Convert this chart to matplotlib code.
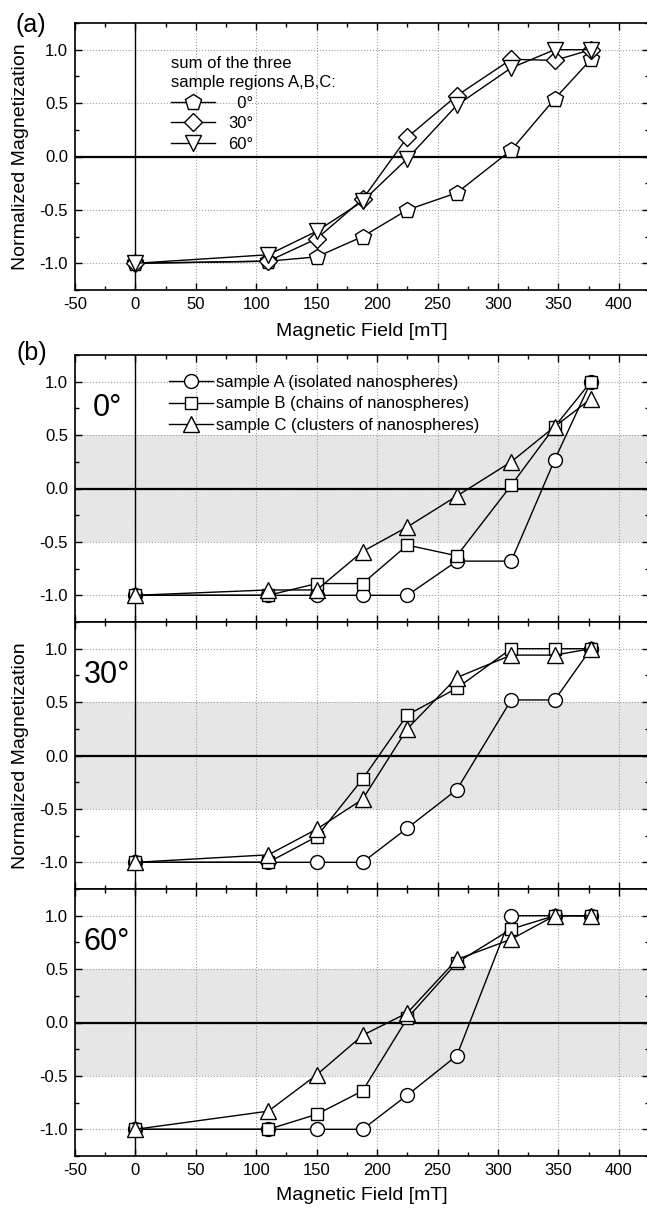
import matplotlib
matplotlib.use('Agg')
import matplotlib.pyplot as plt
from matplotlib.ticker import MultipleLocator, FormatStrFormatter

plt.rcParams['font.family'] = ['Liberation Sans', 'DejaVu Sans']
plt.rcParams['axes.unicode_minus'] = False

# magnetic field steps [mT]
field = [0, 110, 150, 188, 225, 266, 311, 347, 377]

# (a) sum of the three sample regions
sum_0 = [-1.0, -0.98, -0.94, -0.75, -0.50, -0.34, 0.06, 0.54, 0.91]
sum_30 = [-1.0, -0.98, -0.77, -0.40, 0.18, 0.57, 0.91, 0.90, 1.0]
sum_60 = [-1.0, -0.92, -0.70, -0.42, -0.02, 0.48, 0.83, 1.0, 1.0]

# (b) single samples, one panel per angle
a_0 = [-1.0, -1.0, -1.0, -1.0, -1.0, -0.68, -0.68, 0.27, 1.0]
b_0 = [-1.0, -1.0, -0.89, -0.89, -0.53, -0.63, 0.03, 0.58, 1.0]
c_0 = [-1.0, -0.95, -0.95, -0.59, -0.36, -0.07, 0.25, 0.58, 0.84]

a_30 = [-1.0, -1.0, -1.0, -1.0, -0.68, -0.32, 0.52, 0.52, 1.0]
b_30 = [-1.0, -1.0, -0.76, -0.22, 0.38, 0.63, 1.0, 1.0, 1.0]
c_30 = [-1.0, -0.93, -0.69, -0.41, 0.25, 0.73, 0.94, 0.94, 1.0]

a_60 = [-1.0, -1.0, -1.0, -1.0, -0.68, -0.31, 1.0, 1.0, 1.0]
b_60 = [-1.0, -1.0, -0.86, -0.64, 0.04, 0.56, 0.875, 1.0, 1.0]
c_60 = [-1.0, -0.83, -0.49, -0.12, 0.09, 0.59, 0.78, 1.0, 1.0]

angle_labels = ['0°', '30°', '60°']
sample_labels = ['sample A (isolated nanospheres)',
                 'sample B (chains of nanospheres)',
                 'sample C (clusters of nanospheres)']

W, H = 647, 1209
fig = plt.figure(figsize=(W / 100, H / 100), dpi=100)


def rect(top, bottom):
    return [75 / W, 1 - bottom / H, 574 / W, (bottom - top) / H]


def style(ax, show_x=True):
    ax.set_xlim(-50, 425)
    ax.set_ylim(-1.25, 1.25)
    ax.xaxis.set_major_locator(MultipleLocator(50))
    ax.xaxis.set_minor_locator(MultipleLocator(25))
    ax.yaxis.set_major_locator(MultipleLocator(0.5))
    ax.yaxis.set_minor_locator(MultipleLocator(0.25))
    ax.yaxis.set_major_formatter(FormatStrFormatter('%.1f'))
    ax.tick_params(which='both', direction='in', top=True, right=True,
                   labelsize=12, pad=5, width=1)
    ax.tick_params(which='major', length=5)
    ax.tick_params(which='minor', length=3)
    ax.grid(True, which='major', linestyle=':', color='#a0a0a0', linewidth=0.8)
    ax.axhline(0, color='black', lw=1.6, zorder=1.6)
    ax.axvline(0, color='black', lw=1.0, zorder=1.6)
    for s in ax.spines.values():
        s.set_linewidth(1.2)
    if not show_x:
        ax.tick_params(labelbottom=False)


def line(ax, y, marker, ms, label):
    ax.plot(field, y, color='black', lw=1, marker=marker, ms=ms,
            mfc='white', mec='black', mew=1, label=label, zorder=3)


# ---- panel (a)
ax_a = fig.add_axes(rect(23, 290))
style(ax_a)
line(ax_a, sum_0, 'p', 12, '  ' + angle_labels[0])
line(ax_a, sum_30, 'D', 9, angle_labels[1])
line(ax_a, sum_60, 'v', 12, angle_labels[2])
leg_a = ax_a.legend(title='sum of the three\nsample regions A,B,C:', loc='upper left',
                    bbox_to_anchor=(0.168, 0.877), frameon=False, fontsize=12,
                    title_fontsize=12, alignment='left', handlelength=2.6,
                    handletextpad=0.8, labelspacing=0.33, borderpad=0,
                    borderaxespad=0)
leg_a.get_title().set_linespacing(1.35)
ax_a.set_xlabel('Magnetic Field [mT]', fontsize=14)
ax_a.xaxis.set_label_coords(0.5, -0.124)
ax_a.set_ylabel('Normalized Magnetization', fontsize=14)
ax_a.yaxis.set_label_coords(-0.08, 0.5)

# ---- panel (b)
tops = [(355, 622), (622, 889), (889, 1156)]
data_b = [(a_0, b_0, c_0), (a_30, b_30, c_30), (a_60, b_60, c_60)]
axes_b = []
for i, ((t, b), (ya, yb, yc)) in enumerate(zip(tops, data_b)):
    ax = fig.add_axes(rect(t, b))
    style(ax, show_x=(i == 2))
    ax.axhspan(-0.5, 0.5, color='#e6e6e6', zorder=0.5, lw=0)
    line(ax, ya, 'o', 10, sample_labels[0])
    line(ax, yb, 's', 9, sample_labels[1])
    line(ax, yc, '^', 11, sample_labels[2])
    ax.text(0.056, 0.80, angle_labels[i], transform=ax.transAxes,
            fontsize=22, ha='center', va='center')
    axes_b.append(ax)

axes_b[0].legend(loc='upper left', bbox_to_anchor=(0.164, 0.925), frameon=False,
                 fontsize=12, handlelength=2.65, handletextpad=0.15,
                 labelspacing=0.38, borderpad=0, borderaxespad=0)
axes_b[1].set_ylabel('Normalized Magnetization', fontsize=14)
axes_b[1].yaxis.set_label_coords(-0.08, 0.5)
axes_b[2].set_xlabel('Magnetic Field [mT]', fontsize=14)
axes_b[2].xaxis.set_label_coords(0.5, -0.116)

fig.text(31 / W, 1 - 25 / H, '(a)', fontsize=18, ha='center', va='center')
fig.text(32 / W, 1 - 353 / H, '(b)', fontsize=18, ha='center', va='center')

fig.savefig('out.png', dpi=100)
